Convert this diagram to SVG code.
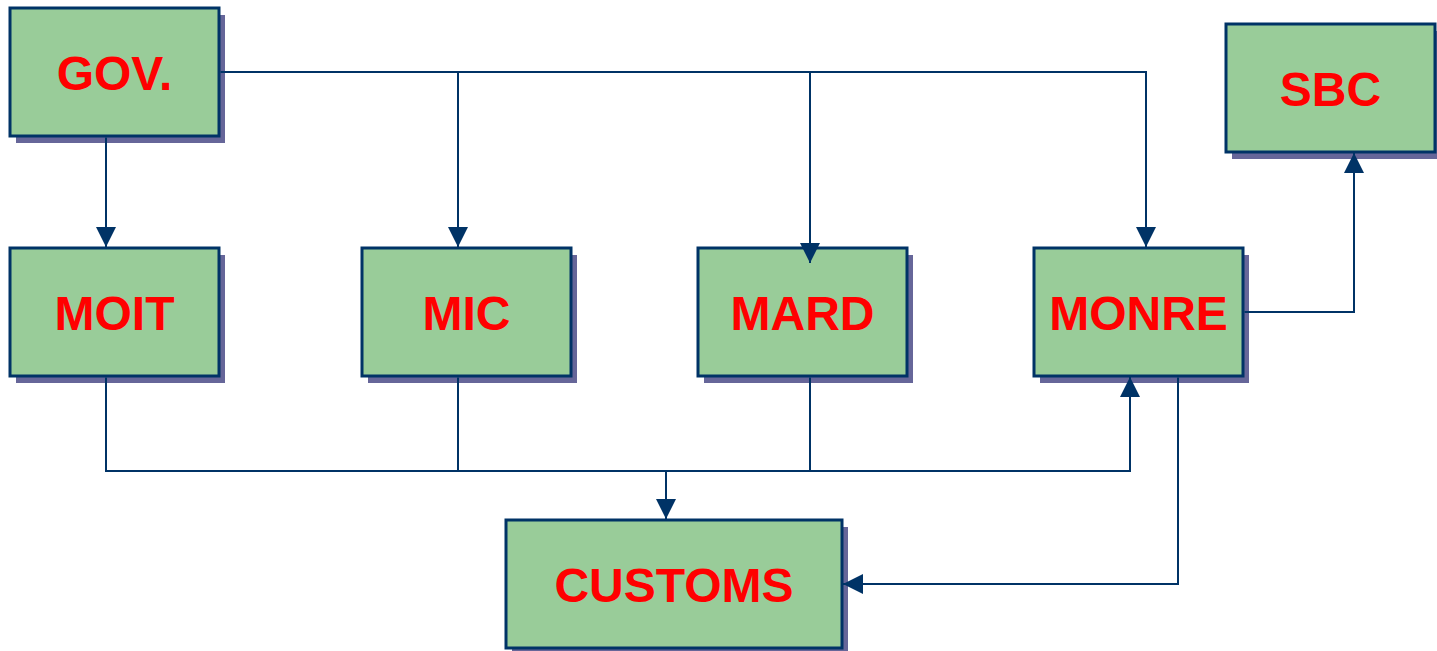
<svg xmlns="http://www.w3.org/2000/svg" width="1437" height="651" viewBox="0 0 1437 651">
<style>
.shadow{fill:#666699;}
.box{fill:#99CC99;stroke:#003366;stroke-width:3;}
.label{font-family:"Liberation Sans",Arial,sans-serif;font-weight:bold;font-size:48px;fill:#FF0000;text-anchor:middle;}
.conn{fill:none;stroke:#003366;stroke-width:2;}
</style>
<defs>
<marker id="arrow" viewBox="0 0 20 20" markerWidth="20" markerHeight="20" markerUnits="userSpaceOnUse" refX="20" refY="10" orient="auto">
<path d="M0,0 L20,10 L0,20 z" fill="#003366"/>
</marker>
</defs>
<rect width="1437" height="651" fill="#FFFFFF"/>
<g id="node-gov">
<rect class="shadow" x="16" y="15" width="209" height="128"/>
<rect class="box" x="10" y="8" width="209" height="128"/>
<text class="label" x="114.5" y="90">GOV.</text>
</g>
<g id="node-sbc">
<rect class="shadow" x="1232" y="31" width="209" height="128"/>
<rect class="box" x="1226" y="24" width="209" height="128"/>
<text class="label" x="1330.5" y="106">SBC</text>
</g>
<g id="node-moit">
<rect class="shadow" x="16" y="255" width="209" height="128"/>
<rect class="box" x="10" y="248" width="209" height="128"/>
<text class="label" x="114.5" y="330">MOIT</text>
</g>
<g id="node-mic">
<rect class="shadow" x="368" y="255" width="209" height="128"/>
<rect class="box" x="362" y="248" width="209" height="128"/>
<text class="label" x="466.5" y="330">MIC</text>
</g>
<g id="node-mard">
<rect class="shadow" x="704" y="255" width="209" height="128"/>
<rect class="box" x="698" y="248" width="209" height="128"/>
<text class="label" x="802.5" y="330">MARD</text>
</g>
<g id="node-monre">
<rect class="shadow" x="1040" y="255" width="209" height="128"/>
<rect class="box" x="1034" y="248" width="209" height="128"/>
<text class="label" x="1138.5" y="330">MONRE</text>
</g>
<g id="node-customs">
<rect class="shadow" x="512" y="527" width="336" height="128"/>
<rect class="box" x="506" y="520" width="336" height="128"/>
<text class="label" x="674" y="602">CUSTOMS</text>
</g>
<g id="connectors">
<polyline class="conn" points="220.5,72 1146,72 1146,247" marker-end="url(#arrow)"/>
<polyline class="conn" points="458,72 458,247" marker-end="url(#arrow)"/>
<polyline class="conn" points="810,72 810,263" marker-end="url(#arrow)"/>
<polyline class="conn" points="106,137.5 106,247" marker-end="url(#arrow)"/>
<polyline class="conn" points="106,377.5 106,471 1130,471 1130,377" marker-end="url(#arrow)"/>
<polyline class="conn" points="458,377.5 458,471"/>
<polyline class="conn" points="810,377.5 810,471"/>
<polyline class="conn" points="666,471 666,519" marker-end="url(#arrow)"/>
<polyline class="conn" points="1178,377.5 1178,584 843,584" marker-end="url(#arrow)"/>
<polyline class="conn" points="1244.5,312 1354,312 1354,153" marker-end="url(#arrow)"/>
</g>
</svg>
